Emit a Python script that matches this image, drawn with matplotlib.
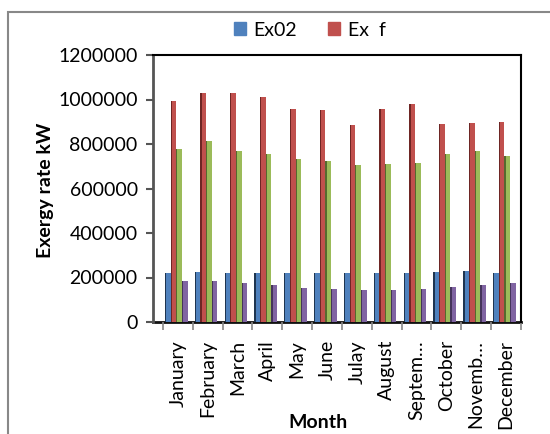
import matplotlib
matplotlib.use("Agg")
import matplotlib.pyplot as plt
from matplotlib.patches import Rectangle, Patch
import numpy as np

months = ["January", "February", "March", "April", "May", "June", "Julay",
          "August", "Septem\u2026", "October", "Novemb\u2026", "December"]
ex02 = [218000, 224000, 221000, 221000, 220000, 219000, 219000, 218000, 219000, 226000, 227000, 222000]
ex_f = [995000, 1030000, 1031000, 1010000, 956000, 951000, 884000, 956000, 978000, 888000, 894000, 900000]
ex_green = [777000, 813000, 768000, 755000, 734000, 725000, 704000, 711000, 716000, 755000, 768000, 748000]
ex_purple = [186000, 183000, 174000, 167000, 155000, 150000, 143000, 146000, 148000, 158000, 167000, 174000]
legend_labels = ["Ex02", "Ex  f"]

colors = ["#4F81BD", "#C0504D", "#9BBB59", "#8064A2"]
dark = ["#1F3550", "#6E2624", "#56692F", "#45345A"]

plt.rcParams['font.family'] = ['Lato', 'DejaVu Sans']

W, H = 550, 434
fig = plt.figure(figsize=(W / 100, H / 100), dpi=100)
ax = fig.add_axes([153 / W, (H - 322) / H, (521 - 153) / W, (322 - 55) / H])

x = np.arange(len(months))
bw = 0.19
offs = [-0.338, -0.148, 0.042, 0.232]
series = [ex02, ex_f, ex_green, ex_purple]
for s, off, c, d in zip(series, offs, colors, dark):
    ax.bar(x + off, s, width=bw, color=c, zorder=3, linewidth=0)
    ax.bar(x + off - bw / 2 + 0.02, s, width=0.04, color=d, zorder=4, linewidth=0)

ax.set_xlim(-0.833, 11.433)
ax.set_ylim(0, 1200000)
ax.set_yticks(np.arange(0, 1200001, 200000))
ax.set_yticklabels([str(v) for v in range(0, 1200001, 200000)], fontsize=14)
ax.set_xticks(x)
ax.set_xticklabels(months, rotation=90, fontsize=14)
ax.set_xticks(np.arange(-0.5, 12, 1), minor=True)
ax.tick_params(axis='x', which='major', length=0, pad=13)
ax.tick_params(axis='x', which='minor', length=6, color='#888888', width=1.2)
ax.tick_params(axis='y', length=5, color='#555555', width=1.5, direction='out', pad=6)

for side in ['top', 'right']:
    ax.spines[side].set_color('black')
    ax.spines[side].set_linewidth(1.5)
ax.spines['left'].set_color('#555555')
ax.spines['left'].set_linewidth(2)
ax.spines['bottom'].set_color('#111111')
ax.spines['bottom'].set_linewidth(2)
ax.spines['bottom'].set_zorder(1)

fig.text(45 / W, 1 - 190 / H, "Exergy rate kW", rotation=90, ha='center', va='center',
         fontsize=14, fontweight='bold')
fig.text(318 / W, 1 - 423 / H, "Month", ha='center', va='center',
         fontsize=14, fontweight='bold')

handles = [Patch(color=colors[0]), Patch(color=colors[1])]
fig.legend(handles, legend_labels, loc='center', bbox_to_anchor=(310 / W, 1 - 30 / H),
           ncol=2, frameon=False, fontsize=14, handlelength=0.6, handleheight=0.6,
           handletextpad=0.4, columnspacing=1.6)

fig.patches.append(Rectangle((8 / W, -0.05), 1.1, (H - 12) / H + 0.05, transform=fig.transFigure,
                             fill=False, edgecolor='#888888', linewidth=1.5))

fig.savefig("out.png", dpi=100)
